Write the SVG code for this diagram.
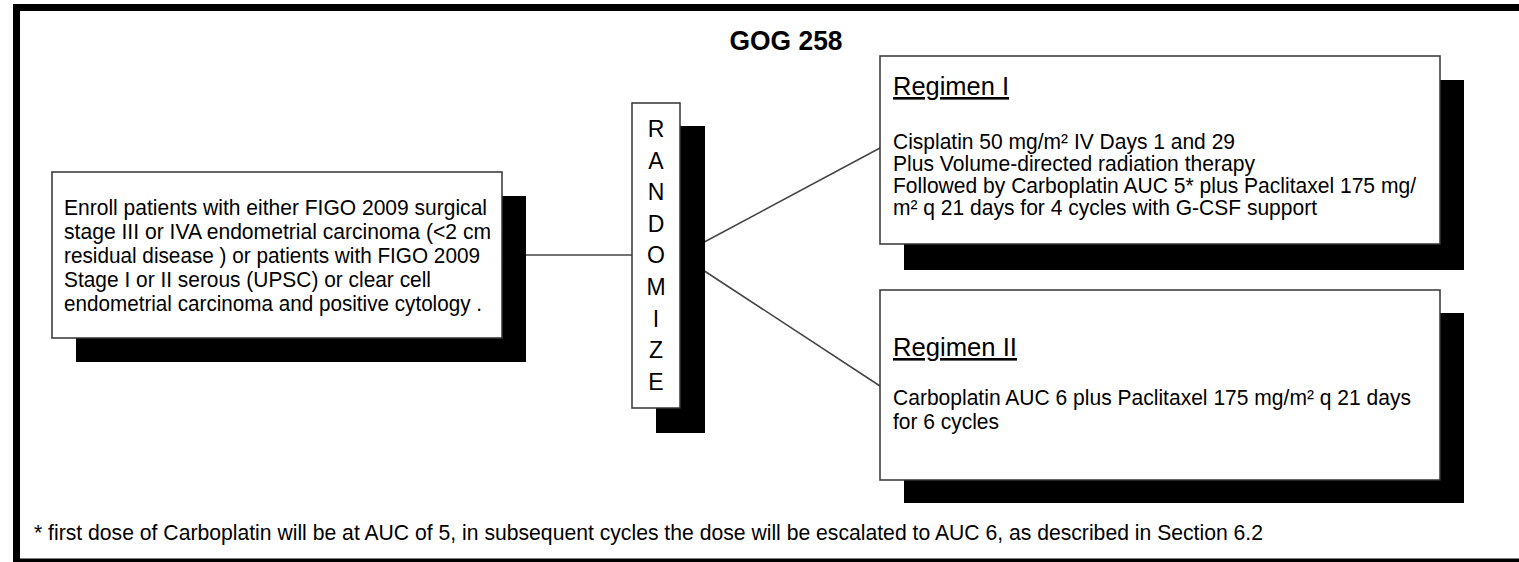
<svg xmlns="http://www.w3.org/2000/svg" width="1519" height="562" viewBox="0 0 1519 562">
<style>
text{font-family:"Liberation Sans",Arial,sans-serif;fill:#000}
.body{font-size:22.5px}
.head{font-size:26px;text-decoration:underline}
.rand{font-size:23px;text-anchor:middle}
.box{fill:#fff;stroke:#333;stroke-width:1.5}
.shadow{fill:#000}
.conn{stroke:#444;stroke-width:1.5;fill:none}
</style>
<rect x="16.5" y="7.5" width="1510" height="554.5" fill="#fff" stroke="#000" stroke-width="7"/>
<text x="786" y="50" style="font-size:27px;font-weight:bold" text-anchor="middle" textLength="113" lengthAdjust="spacingAndGlyphs">GOG 258</text>
<g id="connectors">
<line class="conn" x1="502" y1="255" x2="632" y2="255"/>
<line class="conn" x1="680" y1="255" x2="880" y2="148"/>
<line class="conn" x1="680" y1="255" x2="880" y2="386"/>
</g>
<g id="enroll">
<rect class="shadow" x="76" y="196" width="450" height="166"/>
<rect class="box" x="52" y="172" width="450" height="166"/>
<text class="body" x="64" y="215" textLength="423" lengthAdjust="spacingAndGlyphs">Enroll patients with either FIGO 2009 surgical</text>
<text class="body" x="64" y="239" textLength="427" lengthAdjust="spacingAndGlyphs">stage III or IVA endometrial carcinoma (&lt;2 cm</text>
<text class="body" x="64" y="263" textLength="416" lengthAdjust="spacingAndGlyphs">residual disease ) or patients with FIGO 2009</text>
<text class="body" x="64" y="287" textLength="367" lengthAdjust="spacingAndGlyphs">Stage I or II serous (UPSC) or clear cell</text>
<text class="body" x="64" y="311" textLength="418" lengthAdjust="spacingAndGlyphs">endometrial carcinoma and positive cytology .</text>
</g>
<g id="randomize">
<rect class="shadow" x="656" y="126" width="49" height="307"/>
<rect class="box" x="632" y="103" width="48" height="305"/>
<text class="rand" x="656" y="137">R</text>
<text class="rand" x="656" y="168.6">A</text>
<text class="rand" x="656" y="200.2">N</text>
<text class="rand" x="656" y="231.8">D</text>
<text class="rand" x="656" y="263.4">O</text>
<text class="rand" x="656" y="295">M</text>
<text class="rand" x="656" y="326.6">I</text>
<text class="rand" x="656" y="358.2">Z</text>
<text class="rand" x="656" y="389.8">E</text>
</g>
<g id="regimen1">
<rect class="shadow" x="904" y="80" width="560" height="190"/>
<rect class="box" x="880" y="56" width="560" height="188"/>
<text class="head" x="893" y="95" textLength="116" lengthAdjust="spacingAndGlyphs">Regimen I</text>
<text class="body" x="893" y="149" textLength="342" lengthAdjust="spacingAndGlyphs">Cisplatin 50 mg/m² IV Days 1 and 29</text>
<text class="body" x="893" y="171" textLength="362" lengthAdjust="spacingAndGlyphs">Plus Volume-directed radiation therapy</text>
<text class="body" x="893" y="193" textLength="523" lengthAdjust="spacingAndGlyphs">Followed by Carboplatin AUC 5* plus Paclitaxel 175 mg/</text>
<text class="body" x="893" y="215" textLength="424" lengthAdjust="spacingAndGlyphs">m² q 21 days for 4 cycles with G-CSF support</text>
</g>
<g id="regimen2">
<rect class="shadow" x="904" y="313" width="560" height="190"/>
<rect class="box" x="880" y="290" width="560" height="190"/>
<text class="head" x="893" y="356" textLength="124" lengthAdjust="spacingAndGlyphs">Regimen II</text>
<text class="body" x="893" y="405" textLength="518" lengthAdjust="spacingAndGlyphs">Carboplatin AUC 6 plus Paclitaxel 175 mg/m² q 21 days</text>
<text class="body" x="893" y="429" textLength="106" lengthAdjust="spacingAndGlyphs">for 6 cycles</text>
</g>
<text class="body" x="34" y="540" textLength="1229" lengthAdjust="spacingAndGlyphs">* first dose of Carboplatin will be at AUC of 5, in subsequent cycles the dose will be escalated to AUC 6, as described in Section 6.2</text>
</svg>
